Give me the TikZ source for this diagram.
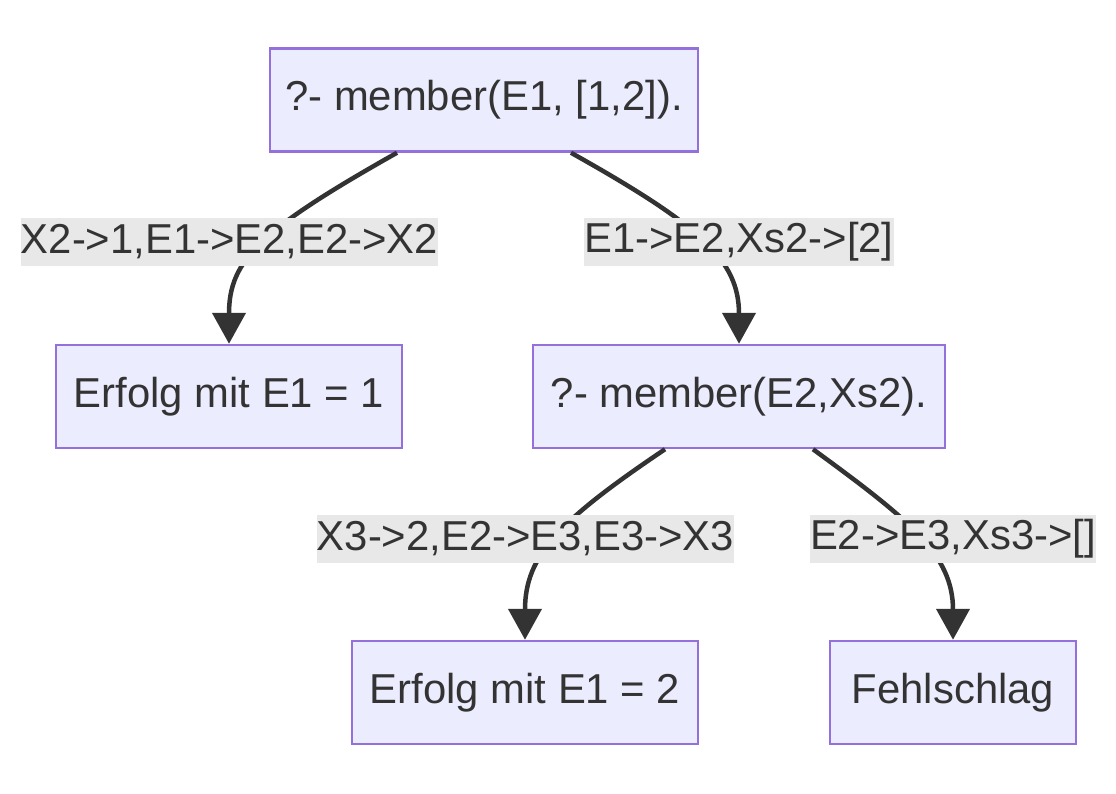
\documentclass[tikz,border=0pt]{standalone}
\usepackage{fontspec}
\setmainfont{Liberation Sans}
\usetikzlibrary{arrows.meta}
\definecolor{nodefill}{HTML}{ECECFF}
\definecolor{nodeline}{HTML}{9370DB}
\definecolor{ink}{HTML}{333333}
\definecolor{labelfill}{HTML}{E8E8E8}
\tikzset{
  goal/.style={draw=nodeline,fill=nodefill,line width=0.05cm,text=ink,
    minimum height=2.06cm,inner sep=0pt,font=\fontsize{23.8}{28}\selectfont},
  subst/.style={fill=labelfill,text=ink,inner xsep=0pt,inner ysep=0pt,
    minimum height=0.96cm,font=\fontsize{23.8}{28}\selectfont},
  bind/.style={draw=ink,line width=0.09cm,-{Triangle[length=0.62cm,width=0.66cm]}}
}
\begin{document}
\begin{tikzpicture}[x=0.02cm,y=-0.02cm]
\useasboundingbox (0,0) rectangle (1116,794);
%First goal
  \node[goal,minimum width=8.56cm] (q0) at (484,100) {?- member(E1, [1,2]).};
  \node[goal,minimum width=6.92cm] (r1) at (229,396.5) {Erfolg mit E1 = 1};
  \node[goal,minimum width=8.24cm] (q1) at (739,396.5) {?- member(E2,Xs2).};
%Second goal
  \node[goal,minimum width=6.92cm] (r2) at (525,692.5) {Erfolg mit E1 = 2};
  \node[goal,minimum width=4.92cm] (f) at (953,692.5) {Fehlschlag};
% edges
  \draw[bind] ([xshift=-1.74cm]q0.south) .. controls (260,230) and (229,260) .. (r1.north);
  \draw[bind] ([xshift=1.74cm]q0.south) .. controls (700,225) and (739,260) .. (q1.north);
  \draw[bind] ([xshift=-1.48cm]q1.south) .. controls (560,520) and (525,555) .. (r2.north);
  \draw[bind] ([xshift=1.48cm]q1.south) .. controls (910,520) and (953,555) .. (f.north);
% labels
  \node[subst] (s1) at (229.5,242) {X2->1,E1->E2,E2->X2};
  \node[subst] (s2) at (739,242) {E1->E2,Xs2->[2]};
  \node[subst] (s3) at (525.5,539) {X3->2,E2->E3,E3->X3};
  \node[subst] (s4) at (953,539) {E2->E3,Xs3->[]};
\end{tikzpicture}
\end{document}
